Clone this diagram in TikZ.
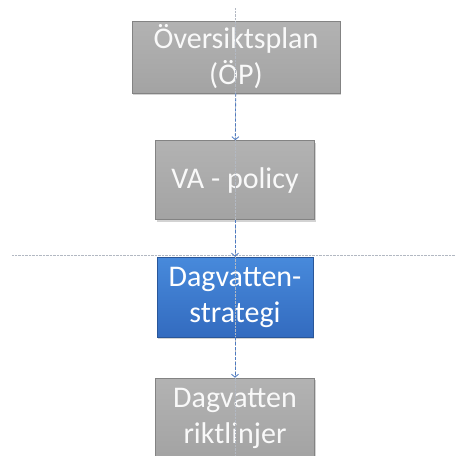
\documentclass[tikz,border=0pt]{standalone}
\usepackage{fontspec}
\setmainfont{Carlito}
\usetikzlibrary{arrows.meta,shadows}
\definecolor{BoxClr}{rgb}{0.64,0.64,0.64}
\definecolor{BoxTop}{rgb}{0.7,0.7,0.7}
\definecolor{StratClr}{rgb}{0.2,0.42,0.75}
\definecolor{StratTop}{rgb}{0.28,0.54,0.86}
\definecolor{FlowClr}{rgb}{0.3,0.48,0.76}
\definecolor{GuideClr}{rgb}{0.7,0.72,0.76}

\tikzset{
  stepbox/.style={draw=BoxClr!80!black,line width=.6pt,top color=BoxTop,bottom color=BoxClr,
    text=white!95!gray,font=\fontsize{30}{36}\selectfont,align=center,inner sep=0pt,
    drop shadow={shadow xshift=1pt,shadow yshift=-2pt,opacity=.35}},
  stratbox/.style={stepbox,draw=StratClr!80!black,top color=StratTop,bottom color=StratClr,text=white},
  flow/.style={FlowClr,densely dashed,line width=.8pt,-{Straight Barb[length=3pt,width=7pt]}},
  guide/.style={GuideClr,densely dotted,line width=.4pt}
}

\begin{document}
\begin{tikzpicture}[x=1pt,y=-1pt]
\useasboundingbox (0,0) rectangle (455,456);

\node[stepbox,minimum width=208,minimum height=72] (op) at (236,57) {Översiktsplan\\(ÖP)};
\node[stepbox,minimum width=159,minimum height=79] (va) at (235,180) {VA - policy};
\node[stratbox,minimum width=156,minimum height=80] (strat) at (235,297) {Dagvatten-\\strategi};
\node[stepbox,minimum width=159,minimum height=80] (rikt) at (235,418) {Dagvatten\\riktlinjer};

\coordinate (top) at (235,8);
\coordinate (bot) at (235,456);
\coordinate (left) at (12,255);
\coordinate (right) at (455,255);

\draw[guide] (top) -- (bot);
\draw[guide] (left) -- (right);

\draw[flow] (op) -- (va);
\draw[flow] (va) -- (strat);
\draw[flow] (strat) -- (rikt);

\end{tikzpicture}
\end{document}
